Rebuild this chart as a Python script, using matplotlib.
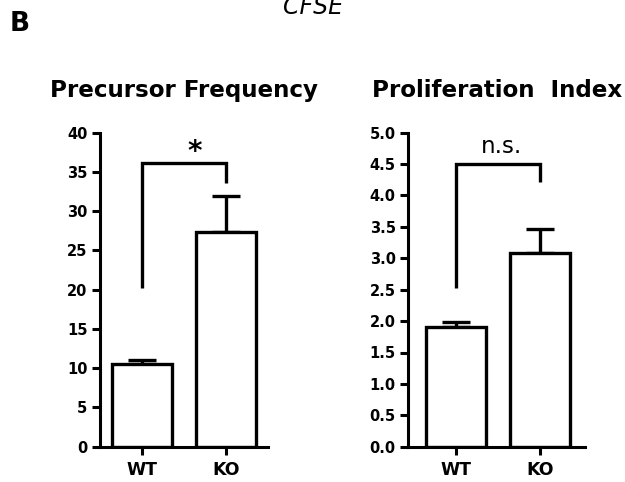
import matplotlib
matplotlib.use('Agg')
import matplotlib.pyplot as plt

plt.rcParams['font.family'] = ['DejaVu Sans']

groups = ['WT', 'KO']

freq_mean = [10.5, 27.4]
freq_err = [0.55, 4.5]
freq_ticks = [0, 5, 10, 15, 20, 25, 30, 35, 40]

prolif_mean = [1.90, 3.08]
prolif_err = [0.09, 0.39]
prolif_ticks = [0.0, 0.5, 1.0, 1.5, 2.0, 2.5, 3.0, 3.5, 4.0, 4.5, 5.0]

# bracket: (top, left leg end, right leg end)
freq_bracket = (36.1, 20.2, 33.6)
prolif_bracket = (4.50, 2.52, 4.22)

W, H = 625, 482
fig = plt.figure(figsize=(W / 100, H / 100), dpi=100)

def panel(rect, xlim, means, errs, ticks, ymax, bracket, title, tick_fmt):
	ax = fig.add_axes(rect)
	x = range(len(means))
	ax.bar(x, means, width=0.71, color='white', edgecolor='black', linewidth=2.4, zorder=2)
	ax.errorbar(x, means, yerr=[[0] * len(errs), errs], fmt='none', ecolor='black',
				elinewidth=2.4, capsize=10, capthick=2.4, zorder=1)
	top, l_end, r_end = bracket
	ax.plot([0, 0, 1, 1], [l_end, top, top, r_end], color='black', lw=2.4,
			solid_joinstyle='miter', solid_capstyle='butt', clip_on=False)
	ax.set_xlim(*xlim)
	ax.set_ylim(0, ymax)
	ax.set_yticks(ticks)
	ax.set_yticklabels([tick_fmt % t for t in ticks])
	ax.set_xticks(list(x))
	ax.set_xticklabels(groups)
	for s in ['top', 'right']:
		ax.spines[s].set_visible(False)
	for s in ['left', 'bottom']:
		ax.spines[s].set_linewidth(2.2)
	ax.tick_params(width=2.2, length=6, pad=3)
	ax.tick_params(axis='y', labelsize=10.5)
	ax.tick_params(axis='x', labelsize=12.5, pad=4)
	for lab in ax.get_xticklabels() + ax.get_yticklabels():
		lab.set_fontweight('bold')
	ax.set_title(title, fontsize=16.6, fontweight='bold', pad=26)
	return ax

ax1 = panel([100 / W, 1 - 446.7 / H, 168 / W, 314 / H], (-0.5, 1.5), freq_mean, freq_err,
			freq_ticks, 40, freq_bracket, 'Precursor Frequency', '%d')
ax1.text(0.63, 37.6, '*', ha='center', va='center', fontsize=20, fontweight='bold')

ax2 = panel([408.3 / W, 1 - 446.7 / H, 176.7 / W, 314 / H], (-0.57, 1.535), prolif_mean, prolif_err,
			prolif_ticks, 5.0, prolif_bracket, 'Proliferation  Index', '%.1f')
ax2.text(0.54, 4.67, 'n.s.', ha='center', va='baseline', fontsize=16.5)

fig.text(10 / W, 1 - 30.7 / H, 'B', ha='left', va='baseline', fontsize=19, fontweight='bold')
fig.text(0.5, 1 - 14 / H, 'CFSE', ha='center', va='baseline', fontsize=17, style='italic')

fig.savefig('out.png', dpi=100)
